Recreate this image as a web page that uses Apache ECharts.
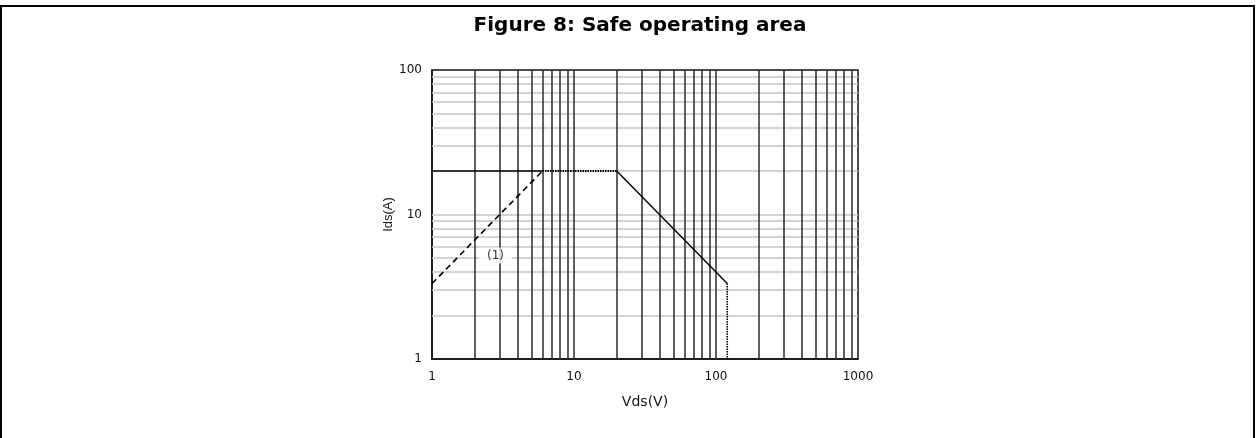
<!DOCTYPE html>
<html>
<head>
<meta charset="utf-8">
<title>Figure 8: Safe operating area</title>
<script src="https://cdn.jsdelivr.net/npm/echarts@6/dist/echarts.min.js"></script>
<style>
  html, body { margin: 0; padding: 0; background: #fff; }
  #chart { width: 1260px; height: 438px; }
</style>
</head>
<body>
<div id="chart"></div>
<script>
// Safe operating area, log-log (Vds in V, Ids in A)
const vdsTicks = [1, 10, 100, 1000];
const idsTicks = [1, 10, 100];

// grid lines inside each decade
const vdsGrid = [2, 3, 4, 5, 6, 7, 8, 9, 10, 20, 30, 40, 50, 60, 70, 80, 90, 100, 200, 300, 400, 500, 600, 700, 800, 900];
const idsGrid = [2, 3, 4, 5, 6, 7, 8, 9, 10, 20, 30, 40, 50, 60, 70, 80, 90];

// SOA boundary pieces
const limitDashed = [[1, 3.33], [6, 20]];     // Rds(on) limit (1)
const limitFlat = [[1, 20], [6, 20]];
const limitFlatDotted = [[6, 20], [20, 20]];
const limitPower = [[20, 20], [120, 3.33]];
const limitVoltage = [[120, 3.33], [120, 1]];

const noteLabel = [[2.8, 5.2, '(1)']];

const chart = echarts.init(document.getElementById('chart'));

const tickFont = 'DejaVu Sans, sans-serif';

function segment(name, data, type, width) {
    return {
        name: name,
        type: 'line',
        data: data,
        symbol: 'none',
        silent: true,
        z: 5,
        lineStyle: { color: '#000', width: width, type: type }
    };
}

const option = {
    backgroundColor: '#fff',
    animation: false,
    title: {
        text: 'Figure 8: Safe operating area',
        left: 635,
        textAlign: 'center',
        top: 11,
        textStyle: { fontFamily: tickFont, fontWeight: 'bold', fontSize: 20, color: '#000' }
    },
    graphic: [{
        type: 'rect',
        shape: { x: 1, y: 6, width: 1253, height: 440 },
        style: { fill: 'none', stroke: '#000', lineWidth: 2 },
        silent: true
    }],
    grid: {
        left: 432,
        right: 402,
        top: 70,
        bottom: 79,
        show: true,
        borderColor: '#111',
        borderWidth: 1.5,
        backgroundColor: 'transparent'
    },
    xAxis: {
        type: 'log',
        logBase: 10,
        min: vdsTicks[0],
        max: vdsTicks[vdsTicks.length - 1],
        name: 'Vds(V)',
        nameLocation: 'middle',
        nameGap: 36,
        nameTextStyle: { fontFamily: tickFont, fontSize: 14, color: '#111' },
        axisLine: { show: true, lineStyle: { color: '#111', width: 1.5 } },
        axisTick: { show: false },
        splitLine: { show: false },
        axisLabel: { fontFamily: tickFont, fontSize: 12, color: '#111', margin: 12, formatter: v => String(v) }
    },
    yAxis: {
        type: 'log',
        logBase: 10,
        min: idsTicks[0],
        max: idsTicks[idsTicks.length - 1],
        name: 'Ids(A)',
        nameLocation: 'middle',
        nameGap: 35,
        nameTextStyle: { fontFamily: 'Liberation Sans, Arial, sans-serif', fontSize: 13, color: '#111' },
        axisLine: { show: true, lineStyle: { color: '#111', width: 1.5 } },
        axisTick: { show: false },
        splitLine: { show: false },
        axisLabel: { fontFamily: tickFont, fontSize: 12, color: '#111', margin: 10, formatter: v => String(v) }
    },
    series: [
        {
            name: 'Grid H',
            type: 'line',
            data: [],
            silent: true,
            z: 1,
            markLine: {
                silent: true,
                symbol: 'none',
                label: { show: false },
                lineStyle: { color: '#c4c4c4', width: 1.5, type: 'solid' },
                data: idsGrid.map(v => ({ yAxis: v }))
            }
        },
        {
            name: 'Grid V',
            type: 'line',
            data: [],
            silent: true,
            z: 2,
            markLine: {
                silent: true,
                symbol: 'none',
                label: { show: false },
                lineStyle: { color: '#2a2a2a', width: 1.5, type: 'solid' },
                data: vdsGrid.map(v => ({ xAxis: v }))
            }
        },
        segment('Rds(on) limit', limitDashed, [6, 4], 1.6),
        segment('Flat', limitFlat, 'solid', 1.3),
        segment('Flat dotted', limitFlatDotted, [1.5, 1], 1.8),
        segment('Power', limitPower, 'solid', 1.4),
        segment('Voltage', limitVoltage, [1.5, 1], 1.6),
        {
            name: 'Note',
            type: 'scatter',
            data: noteLabel,
            symbolSize: 0,
            silent: true,
            z: 6,
            label: {
                show: true,
                position: 'inside',
                formatter: p => p.data[2],
                fontFamily: tickFont,
                fontSize: 12,
                color: '#000',
                backgroundColor: '#fff',
                padding: [2, 8]
            }
        }
    ]
};

chart.setOption(option);
</script>
</body>
</html>
